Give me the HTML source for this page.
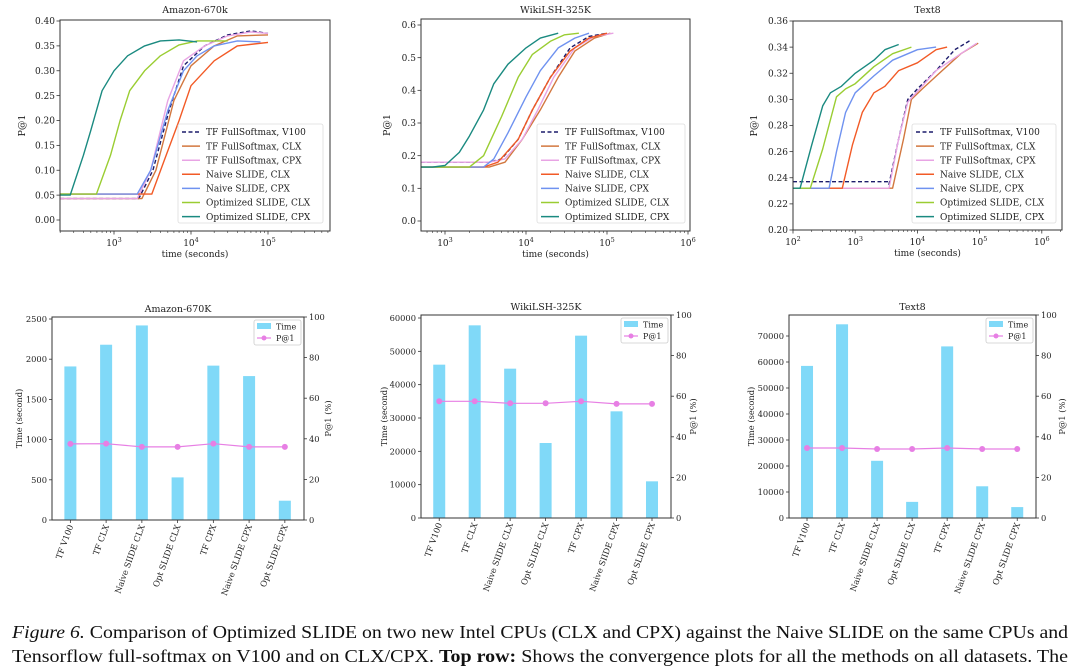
<!DOCTYPE html>
<html><head><meta charset="utf-8">
<style>
html,body{margin:0;padding:0;background:#fff;}
svg{display:block;}
text{font-family:"DejaVu Serif","Liberation Serif",serif;fill:#222;}
.cap{font-family:"Liberation Serif",serif;fill:#111;}
</style></head>
<body>
<svg id="fig" width="1080" height="666" viewBox="0 0 1080 666" xmlns="http://www.w3.org/2000/svg">
<text class="cap" x="12" y="638" font-size="18" textLength="1056" lengthAdjust="spacingAndGlyphs"><tspan font-style="italic">Figure 6.</tspan> Comparison of Optimized SLIDE on two new Intel CPUs (CLX and CPX) against the Naive SLIDE on the same CPUs and</text>
<text class="cap" x="12" y="662" font-size="18" textLength="1056" lengthAdjust="spacingAndGlyphs">Tensorflow full-softmax on V100 and on CLX/CPX. <tspan font-weight="bold">Top row:</tspan> Shows the convergence plots for all the methods on all datasets. The</text>
</svg>
<script>
// ---------- data ----------
const seriesNames = ['TF FullSoftmax, V100','TF FullSoftmax, CLX','TF FullSoftmax, CPX','Naive SLIDE, CLX','Naive SLIDE, CPX','Optimized SLIDE, CLX','Optimized SLIDE, CPX'];

const amazonTimes = [
 [200,2100,3200,5200,8000,15000,30000,60000,100000],
 [200,2300,3500,6000,10000,20000,40000,100000],
 [200,2000,3000,5000,8000,15000,30000,60000,100000],
 [200,3100,4500,7000,10000,20000,40000,100000],
 [200,2000,3000,5000,8000,12000,20000,40000,80000],
 [200,590,900,1200,1600,2500,4000,7000,12000,20000,30000],
 [200,270,400,500,700,1000,1500,2500,4000,7000,12000]];
const amazonP1 = [
 [0.043,0.043,0.1,0.22,0.31,0.35,0.372,0.38,0.375],
 [0.043,0.043,0.1,0.24,0.31,0.35,0.37,0.372],
 [0.043,0.043,0.1,0.24,0.32,0.35,0.37,0.378,0.375],
 [0.052,0.052,0.12,0.2,0.27,0.32,0.35,0.357],
 [0.052,0.052,0.1,0.22,0.30,0.33,0.35,0.36,0.358],
 [0.052,0.052,0.13,0.2,0.26,0.3,0.33,0.352,0.36,0.36,0.36],
 [0.05,0.05,0.13,0.18,0.26,0.30,0.33,0.35,0.36,0.362,0.358]];

const wikiTimes = [
 [500,3500,5000,8000,12000,20000,35000,60000,100000],
 [500,3500,5500,9000,15000,25000,40000,70000,110000],
 [500,3500,5500,9000,14000,22000,40000,70000,120000],
 [500,3000,4500,8000,12000,20000,35000,60000,100000],
 [500,3000,4000,6000,10000,15000,25000,40000,60000],
 [500,2000,3000,5000,8000,12000,20000,30000,45000],
 [500,700,1000,1500,2000,3000,4000,6000,10000,15000,25000]];
const wikiP1 = [
 [0.18,0.18,0.19,0.25,0.34,0.44,0.53,0.565,0.575],
 [0.165,0.165,0.18,0.25,0.34,0.44,0.52,0.56,0.575],
 [0.18,0.18,0.19,0.25,0.34,0.44,0.53,0.565,0.575],
 [0.165,0.165,0.18,0.25,0.34,0.44,0.52,0.56,0.575],
 [0.165,0.165,0.19,0.27,0.38,0.46,0.53,0.56,0.575],
 [0.165,0.165,0.2,0.32,0.44,0.51,0.55,0.57,0.575],
 [0.165,0.165,0.17,0.21,0.26,0.34,0.42,0.48,0.53,0.56,0.575]];

const text8Times = [
 [100,3400,3500,5000,7000,10000,20000,40000,70000],
 [100,4000,6000,8000,12000,25000,50000,95000],
 [100,3500,5000,7000,10000,20000,50000,90000],
 [100,620,900,1300,2000,3000,5000,10000,20000,30000],
 [100,380,500,700,1000,2000,4000,10000,20000],
 [100,190,300,500,700,1000,2000,4000,8000],
 [100,130,200,300,400,600,1000,2000,3000,5000]];
const text8P1 = [
 [0.237,0.237,0.235,0.27,0.3,0.308,0.322,0.338,0.345],
 [0.232,0.232,0.27,0.3,0.308,0.322,0.335,0.343],
 [0.232,0.232,0.27,0.298,0.306,0.322,0.335,0.343],
 [0.232,0.232,0.265,0.29,0.305,0.31,0.322,0.328,0.338,0.34],
 [0.232,0.232,0.26,0.29,0.305,0.318,0.33,0.338,0.34],
 [0.232,0.232,0.262,0.302,0.308,0.312,0.325,0.335,0.34],
 [0.232,0.232,0.265,0.295,0.305,0.31,0.32,0.33,0.338,0.342]];

const barCategories = ['TF V100','TF CLX','Naive SIIDE CLX','Opt SLIDE CLX','TF CPX','Naive SLIDE CPX','Opt SLIDE CPX'];
const barCategoriesWiki = ['TF V100','TF CLX','Naive SIIDE CLX','Opt SLIDE CLX','TF CPX','Naive SIIDE CPX','Opt SLIDE CPX'];
const amazonBarTime = [1910,2180,2420,530,1920,1790,240];
const amazonBarP1 = [37.5,37.6,36,36,37.6,36,36];
const wikiBarTime = [46000,57800,44800,22500,54700,32000,11000];
const wikiBarP1 = [57.5,57.5,56.5,56.5,57.5,56.2,56.2];
const text8BarTime = [58500,74500,22000,6200,66000,12200,4200];
const text8BarP1 = [34.5,34.5,34,34,34.5,34,34];

const amazonYTicks = ['0.00','0.05','0.10','0.15','0.20','0.25','0.30','0.35','0.40'];
const wikiYTicks = ['0.0','0.1','0.2','0.3','0.4','0.5','0.6'];
const text8YTicks = ['0.20','0.22','0.24','0.26','0.28','0.30','0.32','0.34','0.36'];
const amazonBarTicks = [0,500,1000,1500,2000,2500];
const wikiBarTicks = [0,10000,20000,30000,40000,50000,60000];
const text8BarTicks = [0,10000,20000,30000,40000,50000,60000,70000];
const p1Ticks = [0,20,40,60,80,100];

// ---------- styles ----------
const seriesColors = ['#1c1c6b','#d2773f','#e8a4e4','#f25a26','#6f92f0','#9acd32','#1a8a80'];
const NS = 'http://www.w3.org/2000/svg';
const svg = document.getElementById('fig');

function mk(tag, attrs, parent){
  const e = document.createElementNS(NS, tag);
  for (const k in attrs) e.setAttribute(k, attrs[k]);
  (parent||svg).appendChild(e);
  return e;
}
function txt(str, attrs, parent){
  const e = mk('text', attrs, parent);
  e.textContent = str;
  return e;
}
function linY(vA, pA, vB, pB){ return v => pA + (v - vA) * (pB - pA) / (vB - vA); }
function logX(lo, hi, p0, p1){ return v => p0 + (Math.log10(v) - lo) / (hi - lo) * (p1 - p0); }

// ---------- line panels ----------
function linePanel(cfg){
  const g = mk('g', {});
  
  
  const xs = logX(cfg.lo, cfg.hi, cfg.x0, cfg.x1);
  const ys = linY(cfg.vA, cfg.pA, cfg.vB, cfg.pB);
  const t = txt(cfg.title, {x:(cfg.x0+cfg.x1)/2, y:13, 'font-size':9.5, 'text-anchor':'middle'}, g);
  
  
  cfg.yTicks.forEach(lbl => {
    const v = parseFloat(lbl), y = ys(v);
    mk('line', {x1:cfg.x0-3.5, x2:cfg.x0, y1:y, y2:y, stroke:'#333', 'stroke-width':0.8}, g);
    const tl = txt(lbl, {x:cfg.x0-5, y:y+3.2, 'font-size':9, 'text-anchor':'end'}, g);
    
    
  });
  for (let d = Math.floor(cfg.lo); d <= Math.ceil(cfg.hi); d++){
    for (let k = 1; k <= 9; k++){
      const lv = d + Math.log10(k);
      if (lv < cfg.lo - 1e-6 || lv > cfg.hi + 1e-6) continue;
      const x = xs(Math.pow(10, lv));
      mk('line', {x1:x, x2:x, y1:cfg.yb, y2:cfg.yb + (k===1?3.5:2), stroke:'#333', 'stroke-width':k===1?0.8:0.6}, g);
      if (k === 1){
        const tl = mk('text', {x:x, y:cfg.yb+15, 'font-size':9, 'text-anchor':'middle'}, g);
        
        
        const a = document.createElementNS(NS,'tspan'); a.textContent = '10'; tl.appendChild(a);
        const b = document.createElementNS(NS,'tspan'); b.textContent = String(d);
        b.setAttribute('font-size', '6.5'); b.setAttribute('dy', '-4'); tl.appendChild(b);
      }
    }
  }
  const xl = txt('time (seconds)', {x:(cfg.x0+cfg.x1)/2, y:cfg.yb+26, 'font-size':9, 'text-anchor':'middle'}, g);
  
  
  const yl = txt('P@1', {x:0, y:0, 'font-size':9.5, 'text-anchor':'middle', transform:`translate(${cfg.ylx},${(cfg.yt+cfg.yb)/2}) rotate(-90)`}, g);
  
  
  const cid = 'clip-' + cfg.name;
  const cp = mk('clipPath', {id:cid}, g);
  mk('rect', {x:cfg.x0, y:cfg.yt, width:cfg.x1-cfg.x0, height:cfg.yb-cfg.yt}, cp);
  const lg = mk('g', {'clip-path':`url(#${cid})`}, g);
  cfg.times.forEach((ts, i) => {
    const pts = ts.map((tv, j) => xs(tv).toFixed(1) + ',' + ys(cfg.vals[i][j]).toFixed(1)).join(' ');
    const pl = mk('polyline', {points:pts, fill:'none', stroke:seriesColors[i], 'stroke-width':1.4, 'stroke-dasharray': i===0?'4,2.5':'none', 'stroke-linejoin':'round'}, lg);
    
    
  });
  const fr = mk('rect', {x:cfg.x0, y:cfg.yt, width:cfg.x1-cfg.x0, height:cfg.yb-cfg.yt, fill:'none', stroke:'#333', 'stroke-width':1}, g);
  
  
  const L = mk('g', {}, g);
  
  
  mk('rect', {x:cfg.lx0, y:124, width:cfg.lx1-cfg.lx0, height:99, fill:'#fff', 'fill-opacity':0.85, stroke:'#ddd', 'stroke-width':0.8, rx:2}, L);
  seriesNames.forEach((n, i) => {
    const y = 132 + i*14.1;
    mk('line', {x1:cfg.lx0+4, x2:cfg.lx0+22, y1:y, y2:y, stroke:seriesColors[i], 'stroke-width':1.5, 'stroke-dasharray': i===0?'4,2.5':'none'}, L);
    const le = txt(n, {x:cfg.lx0+28, y:y+3.2, 'font-size':9}, L);
    
    
  });
}

linePanel({name:'amazon-convergence-chart', title:'Amazon-670k', x0:60, x1:330, yt:20, yb:231,
  lo:3-54/77, hi:3+216/77, vA:0, pA:220, vB:0.4, pB:21, yTicks:amazonYTicks, ylx:25,
  times:amazonTimes, vals:amazonP1, lx0:178, lx1:323});
linePanel({name:'wikilsh-convergence-chart', title:'WikiLSH-325K', x0:421, x1:690, yt:19, yb:231,
  lo:3-24/81, hi:3+245/81, vA:0, pA:221, vB:0.6, pB:25, yTicks:wikiYTicks, ylx:390,
  times:wikiTimes, vals:wikiP1, lx0:537, lx1:685});
linePanel({name:'text8-convergence-chart', title:'Text8', x0:793, x1:1062, yt:21, yb:230,
  lo:2, hi:2+269/62.2, vA:0.2, pA:230, vB:0.36, pB:21, yTicks:text8YTicks, ylx:757,
  times:text8Times, vals:text8P1, lx0:912, lx1:1056});

// ---------- bar panels ----------
function barPanel(cfg){
  const g = mk('g', {});
  
  
  const ys = linY(0, cfg.yb, cfg.tickTop, cfg.tickTopPx);
  const yr = linY(0, cfg.yb, 100, cfg.yt);
  const n = cfg.cats.length;
  const step = (cfg.x1 - cfg.x0) / (n + 0.05);
  const xc = i => cfg.x0 + step*(i+0.5) + 0.5;
  const t = txt(cfg.title, {x:(cfg.x0+cfg.x1)/2, y:cfg.yt-5, 'font-size':9.5, 'text-anchor':'middle'}, g);
  
  
  cfg.times.forEach((v, i) => {
    const b = mk('rect', {x:xc(i)-6, y:ys(v), width:12, height:cfg.yb-ys(v), fill:'#80d9f8'}, g);
    
    
  });
  const pts = cfg.p1.map((v, i) => xc(i).toFixed(1) + ',' + yr(v).toFixed(1)).join(' ');
  const pl = mk('polyline', {points:pts, fill:'none', stroke:'#e77fe4', 'stroke-width':1.2}, g);
  
  
  cfg.p1.forEach((v, i) => {
    const c = mk('circle', {cx:xc(i), cy:yr(v), r:3, fill:'#e77fe4'}, g);
    
    
  });
  const fr = mk('rect', {x:cfg.x0, y:cfg.yt, width:cfg.x1-cfg.x0, height:cfg.yb-cfg.yt, fill:'none', stroke:'#333', 'stroke-width':1}, g);
  
  
  cfg.ticks.forEach(v => {
    const y = ys(v);
    mk('line', {x1:cfg.x0-3, x2:cfg.x0, y1:y, y2:y, stroke:'#333', 'stroke-width':0.8}, g);
    const tl = txt(String(v), {x:cfg.x0-5, y:y+3, 'font-size':8.3, 'text-anchor':'end'}, g);
    
    
  });
  p1Ticks.forEach(v => {
    const y = yr(v);
    mk('line', {x1:cfg.x1, x2:cfg.x1+3, y1:y, y2:y, stroke:'#333', 'stroke-width':0.8}, g);
    const tl = txt(String(v), {x:cfg.x1+5, y:y+3, 'font-size':8.3}, g);
    
    
  });
  cfg.cats.forEach((c, i) => {
    const x = xc(i);
    mk('line', {x1:x, x2:x, y1:cfg.yb, y2:cfg.yb+3, stroke:'#333', 'stroke-width':0.8}, g);
    const tl = txt(c, {x:0, y:0, 'font-size':8.3, 'text-anchor':'end', transform:`translate(${x+3},${cfg.yb+6}) rotate(-70)`}, g);
    
    
  });
  const yl = txt('Time (second)', {x:0, y:0, 'font-size':8.3, 'text-anchor':'middle', transform:`translate(${cfg.ylx},${(cfg.yt+cfg.yb)/2}) rotate(-90)`}, g);
  
  
  const yr2 = txt('P@1 (%)', {x:0, y:0, 'font-size':8.3, 'text-anchor':'middle', transform:`translate(${cfg.yrx},${(cfg.yt+cfg.yb)/2}) rotate(-90)`}, g);
  
  
  const L = mk('g', {}, g);
  
  
  mk('rect', {x:cfg.x1-50, y:cfg.yt+3, width:47, height:25, fill:'#fff', stroke:'#ccc', 'stroke-width':0.8, rx:2}, L);
  mk('rect', {x:cfg.x1-47, y:cfg.yt+6, width:14, height:6, fill:'#80d9f8'}, L);
  const l1 = txt('Time', {x:cfg.x1-28, y:cfg.yt+12.5, 'font-size':8}, L);
  
  
  mk('line', {x1:cfg.x1-47, x2:cfg.x1-33, y1:cfg.yt+21, y2:cfg.yt+21, stroke:'#e77fe4', 'stroke-width':1.2}, L);
  mk('circle', {cx:cfg.x1-40, cy:cfg.yt+21, r:2.5, fill:'#e77fe4'}, L);
  const l2 = txt('P@1', {x:cfg.x1-28, y:cfg.yt+24, 'font-size':8}, L);
  
  
}

barPanel({name:'amazon-time-bar-chart', title:'Amazon-670K', x0:52, x1:304, yt:317, yb:520,
  tickTop:2500, tickTopPx:319, ticks:amazonBarTicks, cats:barCategories,
  times:amazonBarTime, p1:amazonBarP1, ylx:22, yrx:331});
barPanel({name:'wikilsh-time-bar-chart', title:'WikiLSH-325K', x0:421, x1:671, yt:315, yb:518,
  tickTop:60000, tickTopPx:318, ticks:wikiBarTicks, cats:barCategoriesWiki,
  times:wikiBarTime, p1:wikiBarP1, ylx:387, yrx:696});
barPanel({name:'text8-time-bar-chart', title:'Text8', x0:789, x1:1036, yt:315, yb:518,
  tickTop:70000, tickTopPx:336, ticks:text8BarTicks, cats:barCategories,
  times:text8BarTime, p1:text8BarP1, ylx:754, yrx:1065});
</script>
</body></html>
